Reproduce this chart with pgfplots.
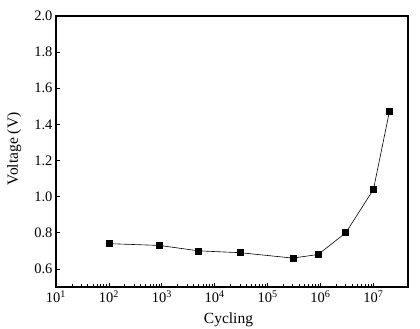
\documentclass[border=0pt]{standalone}
\usepackage{pgfplots}
\pgfplotsset{compat=1.18}
\usepackage{fontspec}
\setmainfont{Liberation Serif}
\begin{document}
\begin{tikzpicture}
\begin{axis}[
  xmode=log,
  scale only axis,
  width=352pt, height=271pt,
  xmin=10, xmax=4.5e7,
  ymin=0.5, ymax=2.0,
  ytick={0.6,0.8,1.0,1.2,1.4,1.6,1.8,2.0},
  yticklabel style={/pgf/number format/fixed,/pgf/number format/fixed zerofill,/pgf/number format/precision=1},
  /pgf/number format/assume math mode=true,
  xtick={10,100,1000,10000,100000,1000000,10000000},
  xticklabels={10\textsuperscript{1},10\textsuperscript{2},10\textsuperscript{3},10\textsuperscript{4},10\textsuperscript{5},10\textsuperscript{6},10\textsuperscript{7}},
  tick pos=left,
  tick align=inside,
  major tick length=4pt,
  minor tick length=2.5pt,
  axis line style={line width=1.3pt},
  every tick/.style={black, line width=0.8pt},
  xlabel={Cycling},
  ylabel={Voltage (V)},
  xlabel style={at={(axis description cs:0.49,0)}, anchor=base, yshift=-36pt},
  ylabel style={at={(axis description cs:-0.108,0.51)}, anchor=base},
  tick label style={font=\fontsize{14.5}{16}\selectfont},
  label style={font=\fontsize{15.5}{17}\selectfont},
]
\addplot[black, line width=0.6pt, mark=square*, mark size=3pt, mark options={solid}] coordinates {
(100,0.74) (900,0.73) (5000,0.70) (30000,0.69) (300000,0.66) (900000,0.68) (3000000,0.80) (10000000,1.04) (20000000,1.47)
};
\end{axis}
\pgfresetboundingbox
\path (current axis.south west) ++(-56pt,-42pt) rectangle ([xshift=12pt,yshift=16pt]current axis.north east);
\end{tikzpicture}
\end{document}
